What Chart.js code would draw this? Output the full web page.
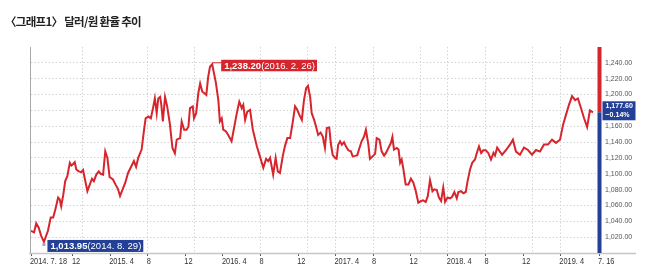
<!DOCTYPE html>
<html>
<head>
<meta charset="utf-8">
<script src="https://cdn.jsdelivr.net/npm/chart.js@4.4.1/dist/chart.umd.min.js"></script>
<style>
  html, body { margin: 0; padding: 0; background: #fff; }
  #wrap { position: relative; width: 650px; height: 277px; overflow: hidden; }
  #title { position: absolute; left: 5px; top: 13px; font-family: 'Noto Sans CJK KR', sans-serif; font-weight: 700; font-size: 11.5px; color: #222; letter-spacing: -0.7px; white-space: nowrap; }
  canvas { position: absolute; left: 0; top: 0; }
</style>
</head>
<body>
<div id="wrap">
  <canvas id="chart" width="650" height="277"></canvas>
  <div id="title">〈그래프1〉 달러/원 환율 추이</div>
</div>
<script>
// x = 2014. 7. 18 부터 지난 일수, y = 원/달러 환율
const days = [0, 10, 17, 25, 33, 42, 55, 64, 72, 79, 88, 93, 98, 105, 111, 118, 126, 131, 136, 142,
  147, 155, 163, 169, 174, 183, 191, 198, 204, 212, 220, 226, 234, 241, 248, 255, 266, 274, 282, 289,
  299, 306, 315, 334, 341, 348, 359, 367, 372, 381, 389, 395, 402, 408, 413, 419, 423, 428, 435, 442,
  451, 459, 467, 473, 484, 489, 497, 505, 511, 516, 525, 529, 536, 543, 549, 556, 563, 569, 575, 581,
  588, 600, 608, 613, 619, 624, 633, 640, 651, 659, 668, 676, 684, 689, 695, 702, 711, 720, 733, 743,
  754, 763, 770, 776, 781, 786, 794, 801, 808, 817, 824, 832, 841, 849, 857, 864, 871, 879, 886, 893,
  899, 906, 911, 919, 925, 932, 940, 947, 954, 960, 968, 973, 979, 987, 992, 997, 1003, 1009, 1016, 1022,
  1030, 1038, 1044, 1052, 1059, 1066, 1073, 1081, 1087, 1095, 1100, 1109, 1117, 1122, 1131, 1138, 1146, 1152, 1160, 1168,
  1173, 1178, 1187, 1193, 1198, 1203, 1208, 1216, 1225, 1233, 1241, 1249, 1257, 1266, 1273, 1281, 1288, 1295, 1303, 1309,
  1317, 1324, 1331, 1338, 1344, 1352, 1360, 1367, 1374, 1382, 1387, 1396, 1403, 1411, 1417, 1425, 1432, 1441, 1447, 1454,
  1461, 1468, 1476, 1484, 1493, 1501, 1506, 1513, 1529, 1542, 1555, 1564, 1574, 1587, 1600, 1613, 1626, 1639, 1652, 1665,
  1678, 1691, 1704, 1717, 1727, 1736, 1746, 1756, 1766, 1775, 1785, 1795, 1805, 1814, 1824];
const rates = [1028, 1026, 1037.6, 1032, 1021.7, 1013.95, 1028, 1044.7, 1044.7, 1055, 1070, 1068, 1059, 1074, 1090.7, 1097, 1113.8, 1110.5, 1112, 1114.6,
  1105.4, 1103, 1102, 1104.7, 1095, 1078, 1086.6, 1093.7, 1090.7, 1099, 1103, 1100, 1099, 1128.3, 1120, 1096, 1092.8, 1086.6, 1081, 1072,
  1082, 1088.7, 1101, 1116, 1108.8, 1120, 1130.5, 1155.6, 1170, 1172.2, 1170, 1180.7, 1195.3, 1176.5, 1195, 1197, 1187, 1166, 1197, 1185,
  1162, 1132.6, 1126, 1143, 1145, 1166, 1155.6, 1155.6, 1159.7, 1182.8, 1185, 1170, 1176.5, 1201.6, 1214, 1203.6, 1201.6, 1199.5, 1222.4, 1235,
  1238.2, 1215, 1193, 1166, 1170, 1155.6, 1153.4, 1149, 1141, 1157.7, 1176.5, 1191, 1182.8, 1187, 1168, 1178.5, 1180.7, 1155.6, 1134.6, 1122,
  1107.5, 1118.8, 1116, 1120, 1109.5, 1099, 1120, 1103, 1101, 1122, 1134.6, 1145, 1145, 1164, 1185, 1180.7, 1174.4, 1168, 1193, 1208,
  1211, 1197, 1176.5, 1168, 1159.7, 1149, 1152, 1147, 1132.6, 1157.7, 1158.5, 1138.8, 1124, 1120, 1119, 1136.7, 1141, 1136.7, 1140, 1134.6,
  1129.6, 1128.3, 1122, 1122.6, 1123.5, 1132.6, 1141, 1147, 1155.6, 1136.7, 1118.8, 1122, 1125.4, 1145, 1143, 1128.3, 1123, 1126.3, 1132.6, 1138.8,
  1146.4, 1130.5, 1132.6, 1130.5, 1113.8, 1118, 1107.5, 1086.6, 1086.6, 1093.7, 1088.7, 1078, 1063.6, 1065.6, 1066.4, 1064.4, 1072, 1092, 1078, 1080.3,
  1079.5, 1070, 1065.6, 1082.4, 1064.4, 1070, 1069, 1071, 1077, 1069, 1077, 1078, 1075.5, 1077, 1090.7, 1105.4, 1113.8, 1118, 1126.3, 1134.6,
  1126.3, 1129.6, 1129.6, 1126.3, 1118, 1126.3, 1123, 1133, 1124, 1130, 1137, 1143, 1128, 1124, 1133, 1130, 1124, 1130, 1128, 1137,
  1137, 1143, 1139, 1143, 1162, 1174, 1187, 1198, 1193, 1195, 1183, 1170, 1159, 1180, 1177.6];

const xMax = 1843.5;
const tickDays = [0, 136, 257, 379, 501, 623, 745, 867, 988, 1110, 1232, 1353, 1475, 1597, 1718, xMax];
const tickLabels = ['2014. 7. 18', '12', '2015. 4', '8', '12', '2016. 4', '8', '12', '2017. 4', '8', '12', '2018. 4', '8', '12', '2019. 4', '7. 16'];
const gridDays = [167, 379, 532, 745, 898, 988, 1110, 1263, 1353, 1475, 1628, 1718];

const highText = ['1,238.20', '(2016. 2. 26)'];
const lowText = ['1,013.95', '(2014. 8. 29)'];
const lastText = ['1,177.60', '\u22120.14%'];

const RED = '#d6252d';
const BLUE = '#233f96';
const SANS = '"Liberation Sans", Arial, sans-serif';

function tag(ctx, x, top, h, bg, strong, normal) {
    ctx.font = 'bold 9.5px ' + SANS;
    const w1 = ctx.measureText(strong).width;
    ctx.font = '9.5px ' + SANS;
    const w2 = ctx.measureText(normal).width;
    ctx.fillStyle = bg;
    ctx.fillRect(x, top, w1 + w2 + 5, h);
    ctx.fillStyle = '#fff';
    ctx.textBaseline = 'middle';
    ctx.textAlign = 'left';
    ctx.font = 'bold 9.5px ' + SANS;
    ctx.fillText(strong, x + 3, top + h / 2 + 0.5);
    ctx.font = '9.5px ' + SANS;
    ctx.fillText(normal, x + 3 + w1, top + h / 2 + 0.5);
}

// 좁은 글꼴이 없어서 가로로 눌러서 그림
function narrowText(ctx, text, x, y, sx) {
    ctx.save();
    ctx.translate(x, y);
    ctx.scale(sx, 1);
    ctx.fillText(text, 0, 0);
    ctx.restore();
}

const overlay = {
    id: 'overlay',
    afterDatasetsDraw(chart) {
        const { ctx, chartArea: a, scales: { x, y } } = chart;
        ctx.save();
        // 왼쪽 테두리와 아래 축선
        ctx.strokeStyle = '#a8a8a8';
        ctx.lineWidth = 1;
        ctx.beginPath();
        ctx.moveTo(a.left - 0.5, a.top);
        ctx.lineTo(a.left - 0.5, a.bottom);
        ctx.stroke();
        ctx.strokeStyle = '#c6c6c6';
        ctx.lineWidth = 1.5;
        ctx.beginPath();
        ctx.moveTo(a.left - 2, a.bottom + 0.5);
        ctx.lineTo(636, a.bottom + 0.5);
        ctx.stroke();

        // x축 날짜
        ctx.fillStyle = '#333';
        ctx.font = '9.5px ' + SANS;
        ctx.textAlign = 'left';
        ctx.textBaseline = 'top';
        tickDays.forEach((d, i) => {
            narrowText(ctx, tickLabels[i], x.getPixelForValue(d) - 1, a.bottom + 4, 0.78);
        });

        // 오른쪽 막대 (현재값 기준 위 빨강, 아래 파랑)
        const last = rates.length - 1;
        const ly = y.getPixelForValue(rates[last]);
        ctx.fillStyle = RED;
        ctx.fillRect(a.right - 1.5, a.top, 4, ly - a.top);
        ctx.fillStyle = BLUE;
        ctx.fillRect(a.right - 1.5, ly, 4, a.bottom - ly);

        // 현재값 박스
        ctx.fillStyle = BLUE;
        ctx.fillRect(a.right + 3.5, ly - 11, 33, 19);
        ctx.fillStyle = '#fff';
        ctx.font = 'bold 8px ' + SANS;
        ctx.textBaseline = 'middle';
        narrowText(ctx, lastText[0], a.right + 6.5, ly - 6, 0.88);
        narrowText(ctx, lastText[1], a.right + 6.5, ly + 3, 0.88);

        // 최고점
        const hi = rates.indexOf(Math.max(...rates));
        const hx = x.getPixelForValue(days[hi]);
        const hy = y.getPixelForValue(rates[hi]);
        ctx.strokeStyle = RED;
        ctx.lineWidth = 1;
        ctx.beginPath();
        ctx.moveTo(hx, hy - 1.5);
        ctx.lineTo(hx + 9, hy - 1.5);
        ctx.stroke();
        tag(ctx, hx + 9, hy - 4.5, 11.5, RED, highText[0], highText[1]);

        // 최저점
        const lo = rates.indexOf(Math.min(...rates));
        const lx = x.getPixelForValue(days[lo]);
        const lyy = y.getPixelForValue(rates[lo]);
        ctx.fillStyle = '#8fa8d8';
        ctx.fillRect(lx - 1.5, lyy + 1, 3, 3);
        tag(ctx, lx + 3.5, lyy - 2, 12, BLUE, lowText[0], lowText[1]);
        ctx.restore();
    }
};

new Chart(document.getElementById('chart'), {
    type: 'line',
    data: {
        datasets: [{
            data: days.map((d, i) => ({ x: d, y: rates[i] })),
            borderColor: RED,
            borderWidth: 2,
            pointRadius: 0,
            tension: 0,
            fill: false
        }]
    },
    options: {
        responsive: false,
        animation: false,
        devicePixelRatio: 1,
        layout: { padding: { top: 47, left: 31, right: 0, bottom: 0 } },
        plugins: { legend: { display: false }, tooltip: { enabled: false } },
        scales: {
            x: {
                type: 'linear',
                min: 0,
                max: xMax,
                afterBuildTicks: s => { s.ticks = tickDays.map(v => ({ value: v })); },
                afterFit: s => { s.height = 24; },
                ticks: { display: false },
                grid: { drawOnChartArea: false, drawTicks: true, tickLength: 3, tickColor: '#555', tickWidth: 1 },
                border: { display: false }
            },
            xg: {
                type: 'linear',
                position: 'bottom',
                min: 0,
                max: xMax,
                afterBuildTicks: s => { s.ticks = gridDays.map(v => ({ value: v })); },
                afterFit: s => { s.height = 0; },
                ticks: { display: false },
                grid: { color: '#d4d4d4', lineWidth: 1, drawTicks: false },
                border: { display: false, dash: [1.5, 2] }
            },
            y: {
                position: 'right',
                min: 1000,
                max: 1260,
                afterFit: s => { s.width = 51; },
                ticks: {
                    stepSize: 20,
                    maxTicksLimit: 20,
                    padding: 6,
                    color: '#555',
                    font: { family: SANS, size: 7 },
                    callback: v => (v === 1000 || v === 1260) ? '' : v.toLocaleString('en-US', { minimumFractionDigits: 2, maximumFractionDigits: 2 })
                },
                grid: {
                    drawTicks: false,
                    color: c => (c.tick && (c.tick.value === 1000 || c.tick.value === 1260)) ? 'rgba(0,0,0,0)' : '#d4d4d4'
                },
                border: { display: false, dash: [1.5, 2] }
            }
        }
    },
    plugins: [overlay]
});
</script>
</body>
</html>
